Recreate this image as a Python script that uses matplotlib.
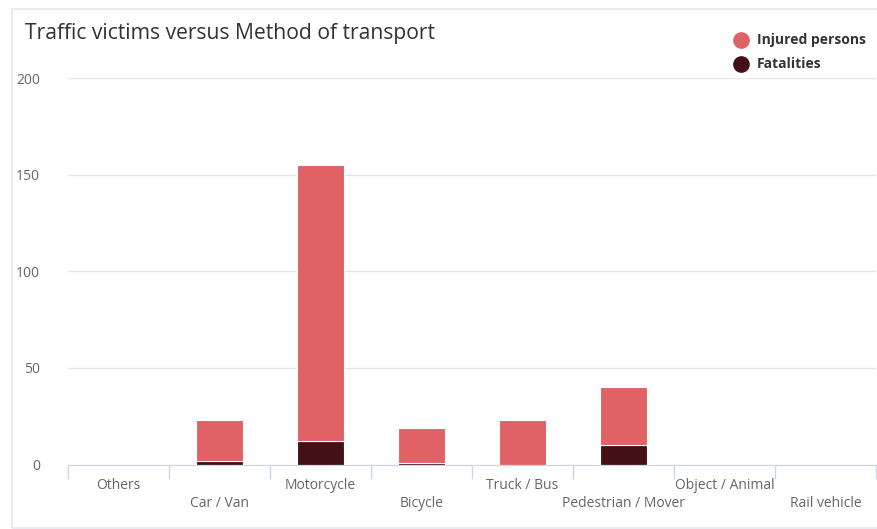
import matplotlib.pyplot as plt
from matplotlib.patches import Rectangle

# data
categories = ["Others", "Car / Van", "Motorcycle", "Bicycle", "Truck / Bus",
              "Pedestrian / Mover", "Object / Animal", "Rail vehicle"]
fatalities = [0, 2, 12, 1, 0, 10, 0, 0]
injured = [0, 21, 143, 18, 23, 30, 0, 0]
yticks = [0, 50, 100, 150, 200]

col_injured = "#e06264"
col_fatal = "#431115"
grey_txt = "#666666"

fig = plt.figure(figsize=(8.77, 5.29), dpi=100)
fig.patch.set_facecolor("white")

# card border
fig.add_artist(Rectangle((12 / 877, 1.5 / 529), 880 / 877, 518.5 / 529,
                         transform=fig.transFigure, fill=False,
                         edgecolor="#e4e8ee", linewidth=1.2))

ax = fig.add_axes([68 / 877, 64.5 / 529, 808 / 877, 386.5 / 529])
x = range(len(categories))
ax.bar(x, fatalities, width=0.475, color=col_fatal, edgecolor="white", linewidth=0.8, zorder=3)
ax.bar(x, injured, width=0.475, bottom=fatalities, color=col_injured,
       edgecolor="white", linewidth=0.8, zorder=3)

ax.set_xlim(-0.5, len(categories) - 0.5)
ax.set_ylim(0, 200)
ax.set_yticks(yticks)
ax.tick_params(axis="y", length=0, pad=20, labelsize=10, labelcolor=grey_txt)
for t in ax.get_yticklabels():
    t.set_fontfamily("Open Sans")
ax.grid(axis="y", color="#e6e6e6", linewidth=1, zorder=0)
for s in ["top", "right", "left"]:
    ax.spines[s].set_visible(False)
ax.spines["bottom"].set_color("#ccd6eb")
ax.spines["bottom"].set_zorder(4)

# category boundary ticks
ax.set_xticks([i - 0.5 for i in range(len(categories) + 1)])
ax.set_xticklabels([])
ax.tick_params(axis="x", length=10, color="#ccd6eb", width=1)

# staggered labels
for i, c in enumerate(categories):
    off = -21 if i % 2 == 0 else -39
    ax.annotate(c, (i, 0), xytext=(0, off), textcoords="offset pixels",
                ha="center", va="center", fontsize=10, color=grey_txt,
                family="Open Sans", annotation_clip=False)

fig.text(25 / 877, 1 - 33 / 529, "Traffic victims versus Method of transport",
         fontsize=15.2, color="#333333", family="Open Sans", va="center")

# legend
for yy, lab, col in [(40, "Injured persons", col_injured), (64, "Fatalities", col_fatal)]:
    fig.add_artist(plt.Line2D([741 / 877], [1 - yy / 529], marker="o", markersize=11,
                              color=col, linestyle="none", transform=fig.transFigure))
    fig.text(757 / 877, 1 - yy / 529, lab, fontsize=10, fontweight="bold",
             color="#333333", family="Open Sans", va="center")

fig.savefig("out.png", dpi=100)
